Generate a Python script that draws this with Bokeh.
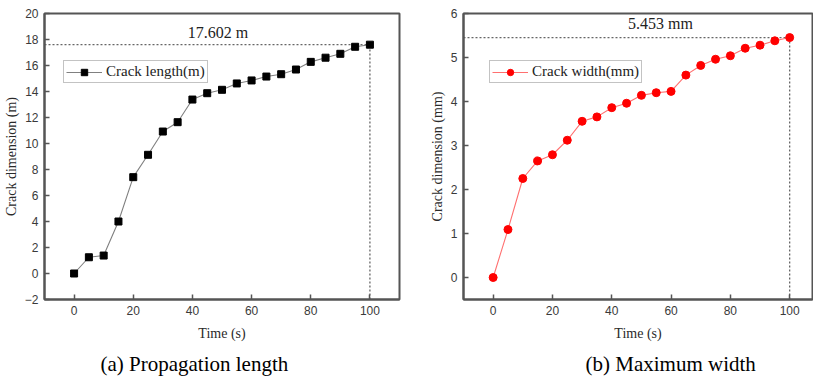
from bokeh.plotting import figure
from bokeh.layouts import row
from bokeh.models import Range1d, FixedTicker, Label, Title
from bokeh.embed import file_html
from bokeh.resources import INLINE

# ---- data ----
time_s = [0, 5, 10, 15, 20, 25, 30, 35, 40, 45, 50, 55, 60, 65, 70, 75, 80, 85, 90, 95, 100]
crack_length_m = [0, 1.25, 1.38, 4.0, 7.41, 9.13, 10.92, 11.64, 13.38, 13.87, 14.13,
                  14.62, 14.85, 15.15, 15.33, 15.69, 16.28, 16.6, 16.9, 17.44, 17.602]
crack_width_mm = [0, 1.09, 2.25, 2.65, 2.79, 3.12, 3.55, 3.65, 3.86, 3.96, 4.14,
                  4.2, 4.23, 4.6, 4.82, 4.96, 5.04, 5.21, 5.28, 5.38, 5.453]
x_ticks = [0, 20, 40, 60, 80, 100]
y_ticks_a = [-2, 0, 2, 4, 6, 8, 10, 12, 14, 16, 18, 20]
y_ticks_b = [0, 1, 2, 3, 4, 5, 6]
captions = ["(a)  Propagation length", "(b) Maximum width"]

SERIF = "Liberation Serif"
SANS = "Liberation Sans"
AX = "#555555"
H = 382


def style(p, yt):
    p.xgrid.visible = False
    p.ygrid.visible = False
    p.background_fill_color = "white"
    p.border_fill_color = "white"
    p.outline_line_color = AX
    p.outline_line_width = 2
    p.xaxis.ticker = FixedTicker(ticks=x_ticks)
    p.yaxis.ticker = FixedTicker(ticks=yt)
    for ax in p.axis:
        ax.axis_line_color = AX
        ax.axis_line_width = 2
        ax.major_tick_in = 5
        ax.major_tick_out = 0
        ax.major_tick_line_color = AX
        ax.major_tick_line_width = 1.5
        ax.minor_tick_line_color = None
        ax.major_label_text_font = SANS
        ax.major_label_text_font_size = "12px"
        ax.major_label_text_color = "#3a3a3a"
        ax.axis_label_text_font = SERIF
        ax.axis_label_text_font_size = "14px"
        ax.axis_label_text_font_style = "normal"
        ax.axis_label_text_color = "#2a2a2a"
    p.xaxis.major_label_standoff = 6
    p.yaxis.major_label_standoff = 6
    p.xaxis.axis_label_standoff = 8
    p.yaxis.axis_label_standoff = 3
    p.xaxis.axis_label = "Time (s)"


def legend_style(p, loc):
    lg = p.legend[0]
    lg.location = loc
    lg.padding = 2
    lg.margin = 0
    lg.spacing = 0
    lg.glyph_width = 36
    lg.glyph_height = 16
    lg.label_standoff = 4
    lg.label_text_font = SERIF
    lg.label_text_font_size = "15px"
    lg.label_text_color = "#222222"
    lg.border_line_color = "#888888"
    lg.border_line_width = 1
    lg.background_fill_alpha = 1


def caption(p, text, offset):
    p.add_layout(Title(text=text, align="left", offset=offset, standoff=13,
                       text_font=SERIF, text_font_size="21px", text_font_style="normal",
                       text_color="black"), "below")


# ---- (a) propagation length ----
pa = figure(width=410, height=H, x_range=Range1d(-10, 110), y_range=Range1d(-2, 20),
            output_backend="svg", toolbar_location=None,
            min_border_left=44, min_border_right=11, min_border_top=13, min_border_bottom=83)
style(pa, y_ticks_a)
pa.yaxis.axis_label = "Crack dimension (m)"
xmax, ya = time_s[-1], crack_length_m[-1]
pa.line([pa.x_range.start, xmax], [ya, ya], line_color="#666666", line_width=1.3, line_dash="2 2")
pa.line([xmax, xmax], [pa.y_range.start, ya], line_color="#666666", line_width=1.3, line_dash="2 2")
pa.line(time_s, crack_length_m, line_color="#808080", line_width=1.1, legend_label="Crack length(m)")
pa.scatter(time_s, crack_length_m, marker="square", size=7, fill_color="black",
           line_color="black", legend_label="Crack length(m)")
legend_style(pa, (19, 216))
pa.add_layout(Label(x=48.6, y=18.56, text=f"{ya:.3f} m", text_align="center",
                    text_baseline="middle", text_font=SERIF, text_font_size="16px",
                    text_color="#222222"))
caption(pa, captions[0], 56)

# ---- (b) maximum width ----
pb = figure(width=403, height=H, x_range=Range1d(-10, 107.7), y_range=Range1d(-0.5, 6),
            output_backend="svg", toolbar_location=None,
            min_border_left=53, min_border_right=1, min_border_top=13, min_border_bottom=83)
style(pb, y_ticks_b)
pb.yaxis.axis_label = "Crack dimension (mm)"
yb = crack_width_mm[-1]
pb.line([pb.x_range.start, xmax], [yb, yb], line_color="#666666", line_width=1.3, line_dash="2 2")
pb.line([xmax, xmax], [pb.y_range.start, yb], line_color="#666666", line_width=1.3, line_dash="2 2")
pb.line(time_s, crack_width_mm, line_color="#ff7070", line_width=1.1, legend_label="Crack width(mm)")
pb.scatter(time_s, crack_width_mm, marker="circle", size=8, fill_color="#ff0000",
           line_color="#ff0000", legend_label="Crack width(mm)")
legend_style(pb, (26, 216))
pb.add_layout(Label(x=56.4, y=5.78, text=f"{yb:.3f} mm", text_align="center",
                    text_baseline="middle", text_font=SERIF, text_font_size="16px",
                    text_color="#222222"))
caption(pb, captions[1], 122)

layout = row(pa, pb, spacing=0)
open("out.html", "w").write(file_html(layout, INLINE))
